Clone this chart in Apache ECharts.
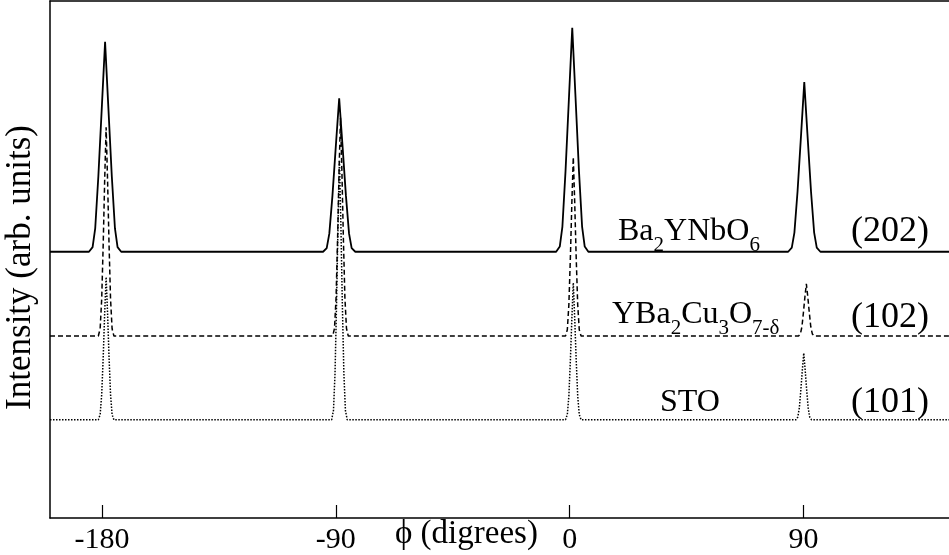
<!DOCTYPE html>
<html lang="en">
<head>
    <meta charset="UTF-8">
    <title>phi scan</title>
    <script src="https://cdn.jsdelivr.net/npm/echarts@6/dist/echarts.min.js"></script>
    <style>
        html, body { margin: 0; height: 100%; background: #fff; }
        #main { width: 949px; height: 555px; }
    </style>
</head>
<body>
<div id="main"></div>
<script type="text/javascript">
// tick labels on the phi axis
var phiTicks = [-180, -90, 0, 90];

// Ba2YNbO6 (202) scan, [phi, intensity]
var ba2ynbo6 = [
    [-200, 51.5],
    [-185.0, 51.5], [-183.6, 52.4], [-182.6, 56.0], [-181.4, 66.0], [-180.0, 80.0], [-178.8, 92.1],
    [-177.6, 80.0], [-176.2, 66.0], [-175.0, 56.0], [-174.0, 52.4], [-172.6, 51.5],
    [-94.9, 51.5], [-93.5, 52.2], [-92.5, 55.0], [-91.3, 62.3], [-89.9, 72.6], [-88.7, 81.2],
    [-87.5, 72.6], [-86.1, 62.3], [-84.9, 55.0], [-83.9, 52.2], [-82.5, 51.5],
    [-5.2, 51.5], [-3.8, 52.5], [-2.8, 56.3], [-1.6, 67.0], [-0.2, 82.0], [1.0, 94.8],
    [2.2, 82.0], [3.6, 67.0], [4.8, 56.3], [5.8, 52.5], [7.2, 51.5],
    [84.1, 51.5], [85.5, 52.3], [86.5, 55.2], [87.7, 63.1], [89.1, 74.4], [90.3, 84.3],
    [91.5, 74.4], [92.9, 63.1], [94.1, 55.2], [95.1, 52.3], [96.5, 51.5],
    [146, 51.5]
];

// YBa2Cu3O7-d (102) scan
var ybco = [
    [-200, 35.2],
    [-181.4, 35.2], [-180.7, 36.6], [-180.1, 42.4], [-179.5, 53.4], [-178.95, 65.5], [-178.4, 75.6],
    [-177.85, 65.5], [-177.3, 53.4], [-176.7, 42.4], [-176.1, 36.6], [-175.4, 35.2],
    [-91.2, 35.2], [-90.5, 36.7], [-89.9, 42.6], [-89.3, 54.3], [-88.75, 67.0], [-88.2, 77.4],
    [-87.65, 67.0], [-87.1, 54.3], [-86.5, 42.6], [-85.9, 36.7], [-85.2, 35.2],
    [-1.6, 35.2], [-0.9, 36.4], [-0.3, 41.3], [0.3, 50.7], [0.85, 61.0], [1.4, 69.8],
    [1.95, 61.0], [2.5, 50.7], [3.1, 41.3], [3.7, 36.4], [4.4, 35.2],
    [88.1, 35.2], [88.8, 35.6], [89.4, 37.0], [90.0, 39.9], [90.55, 42.8], [91.1, 45.3],
    [91.65, 42.8], [92.2, 39.9], [92.8, 37.0], [93.4, 35.6], [94.1, 35.2],
    [146, 35.2]
];

// SrTiO3 (101) scan
var sto = [
    [-200, 19.0],
    [-181.4, 19.0], [-180.7, 20.0], [-180.1, 23.9], [-179.5, 31.4], [-178.95, 39.7], [-178.4, 46.6],
    [-177.85, 39.7], [-177.3, 31.4], [-176.7, 23.9], [-176.1, 20.0], [-175.4, 19.0],
    [-91.6, 19.0], [-90.9, 20.8], [-90.3, 28.0], [-89.7, 41.7], [-89.15, 56.8], [-88.6, 69.2],
    [-88.05, 56.8], [-87.5, 41.7], [-86.9, 28.0], [-86.3, 20.8], [-85.6, 19.0],
    [-1.6, 19.0], [-0.9, 20.0], [-0.3, 23.6], [0.3, 30.8], [0.85, 38.6], [1.4, 45.5],
    [1.95, 38.6], [2.5, 30.8], [3.1, 23.6], [3.7, 20.0], [4.4, 19.0],
    [87.1, 19.0], [87.8, 19.5], [88.4, 21.3], [89.0, 24.9], [89.55, 28.6], [90.1, 31.9],
    [90.65, 28.6], [91.2, 24.9], [91.8, 21.3], [92.4, 19.5], [93.1, 19.0],
    [146, 19.0]
];

var serif = 'Liberation Serif';
var richTxt = {
    n: { fontFamily: serif, fontSize: 32, color: '#000', verticalAlign: 'top', lineHeight: 34 },
    p: { fontFamily: serif, fontSize: 36, color: '#000', verticalAlign: 'top', lineHeight: 36 },
    s: { fontFamily: serif, fontSize: 21, color: '#000', verticalAlign: 'top', lineHeight: 21, padding: [19, 0, 0, 0] }
};

function label(x, y, txt) {
    return {
        type: 'text', left: x, top: y, z: 100,
        style: { text: txt, rich: richTxt, fill: '#000' }
    };
}

var chartDom = document.getElementById('main');
var myChart = echarts.init(chartDom);
var option = {
    animation: false,
    backgroundColor: '#fff',
    grid: { left: 50, right: 0, top: 1, bottom: 37, outerBoundsMode: 'none', containLabel: false },
    xAxis: [{
        type: 'value', min: -200, max: 146,
        splitLine: { show: false },
        axisLine: { onZero: false, lineStyle: { color: '#000', width: 1.5 } },
        axisTick: { inside: true, length: 13, customValues: phiTicks, lineStyle: { color: '#000', width: 1.2 } },
        axisLabel: {
            customValues: phiTicks, margin: 7,
            fontFamily: serif, fontSize: 30, color: '#000'
        }
    }, {
        // top frame line only
        type: 'value', position: 'top', min: -200, max: 146,
        axisLine: { onZero: false, lineStyle: { color: '#000', width: 1.5 } },
        axisTick: { show: false }, axisLabel: { show: false }, splitLine: { show: false }
    }],
    yAxis: {
        type: 'value', min: 0, max: 100,
        axisLine: { show: true, onZero: false, lineStyle: { color: '#000', width: 1.5 } },
        axisTick: { show: false },
        axisLabel: { show: false },
        splitLine: { show: false },
        name: 'Intensity (arb. units)',
        nameLocation: 'middle', nameGap: 12, nameRotate: 90,
        nameTextStyle: { fontFamily: serif, fontSize: 35, color: '#000', padding: [0, 16, 0, 0] }
    },
    graphic: [
        { type: 'text', left: 395, top: 518, style: { text: 'ϕ (digrees)', font: '33px "Liberation Serif"', fill: '#000' } },
        label(618, 216, '{n|Ba}{s|2}{n|YNbO}{s|6}'),
        label(851, 214, '{p|(202)}'),
        label(612, 299, '{n|YBa}{s|2}{n|Cu}{s|3}{n|O}{s|7-δ}'),
        label(851, 300, '{p|(102)}'),
        label(660, 387, '{n|STO}'),
        label(851, 385, '{p|(101)}')
    ],
    series: [
        {
            name: 'Ba2YNbO6', type: 'line', data: ba2ynbo6, symbol: 'none',
            lineStyle: { color: '#000', width: 1.8, type: 'solid' }
        },
        {
            name: 'YBa2Cu3O7', type: 'line', data: ybco, symbol: 'none',
            lineStyle: { color: '#000', width: 1.5, type: [5, 3] }
        },
        {
            name: 'STO', type: 'line', data: sto, symbol: 'none',
            lineStyle: { color: '#000', width: 1.5, type: [1.5, 1.5] }
        }
    ]
};
myChart.setOption(option);
</script>
</body>
</html>
